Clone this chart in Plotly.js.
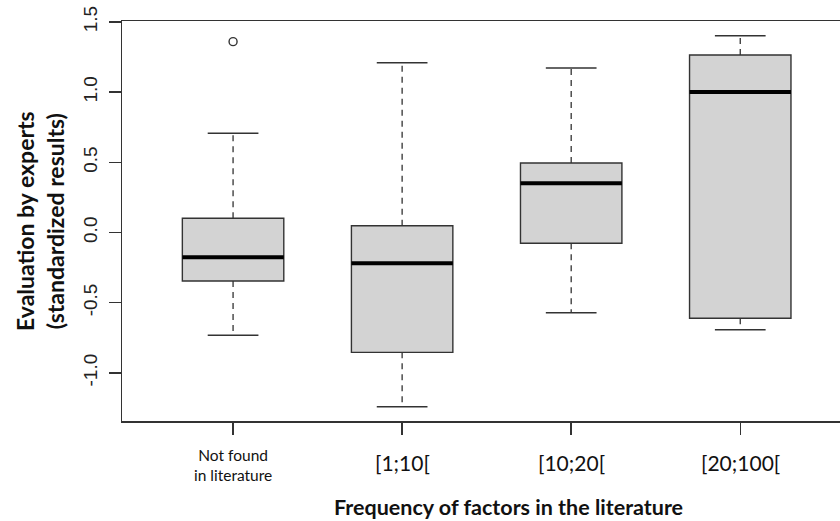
<!DOCTYPE html>
<html>
<head>
<meta charset="utf-8">
<script src="https://cdn.plot.ly/plotly-3.0.1.min.js"></script>
<style>html,body{margin:0;padding:0;background:#fff;}#chart{width:840px;height:521px;}</style>
</head>
<body>
<div id="chart"></div>
<script>
// ---- data ----
const categories = ["Not found<br>in literature", "[1;10[", "[10;20[", "[20;100["];
const q1Values     = [-0.345, -0.853, -0.076, -0.610];
const medianValues = [-0.176, -0.219,  0.351,  1.001];
const q3Values     = [ 0.102,  0.049,  0.496,  1.265];
const lowerWhisker = [-0.731, -1.240, -0.571, -0.692];
const upperWhisker = [ 0.707,  1.210,  1.172,  1.402];
const outlierCategory = ["Not found<br>in literature"];
const outlierValues   = [1.36];
const yTickValues = [-1.0, -0.5, 0.0, 0.5, 1.0, 1.5];
const yTickLabels = ["-1.0", "-0.5", "0.0", "0.5", "1.0", "1.5"];
const xTitle = "Frequency of factors in the literature";
const yTitle = "Evaluation by experts<br>(standardized results)";

// ---- build traces ----
const pos = categories.map((c, i) => i + 1);
const boxHalf = 0.3, capHalf = 0.15;
const lineCol = "#333";

const boxTrace = {
  type: "box", x: pos, q1: q1Values, median: medianValues, q3: q3Values,
  lowerfence: q1Values, upperfence: q3Values,
  width: 2 * boxHalf, whiskerwidth: 0,
  fillcolor: "#d3d3d3", line: {color: lineCol, width: 1.4},
  boxpoints: false, hoverinfo: "skip", showlegend: false
};

const wx = [], wy = [];
pos.forEach((p, i) => {
  wx.push(p, p, null, p, p, null);
  wy.push(q3Values[i], upperWhisker[i], null, q1Values[i], lowerWhisker[i], null);
});
const whiskerTrace = {type: "scatter", mode: "lines", x: wx, y: wy,
  line: {color: lineCol, width: 1.3, dash: "6px,5px"}, hoverinfo: "skip", showlegend: false};

const cx = [], cy = [];
pos.forEach((p, i) => {
  cx.push(p - capHalf, p + capHalf, null, p - capHalf, p + capHalf, null);
  cy.push(upperWhisker[i], upperWhisker[i], null, lowerWhisker[i], lowerWhisker[i], null);
});
const capTrace = {type: "scatter", mode: "lines", x: cx, y: cy,
  line: {color: lineCol, width: 1.5}, hoverinfo: "skip", showlegend: false};

const mx = [], my = [];
pos.forEach((p, i) => {
  mx.push(p - boxHalf, p + boxHalf, null);
  my.push(medianValues[i], medianValues[i], null);
});
const medianTrace = {type: "scatter", mode: "lines", x: mx, y: my,
  line: {color: "#000", width: 4}, hoverinfo: "skip", showlegend: false};

const outlierTrace = {type: "scatter", mode: "markers",
  x: outlierCategory.map(c => categories.indexOf(c) + 1), y: outlierValues,
  marker: {symbol: "circle-open", size: 8, color: lineCol, line: {width: 1.4, color: lineCol}},
  hoverinfo: "skip", showlegend: false};

// category labels (as text under each tick)
const catFont = "Lato, 'Open Sans', sans-serif";
const catAnnotations = categories.map((c, i) => {
  const multi = c.includes("<br>");
  return {
    text: c, xref: "x", yref: "paper", x: pos[i], y: multi ? -0.11 : -0.1025,
    xanchor: "center", yanchor: "middle", showarrow: false,
    font: {family: catFont, size: multi ? 15.5 : 21, color: "#111"}
  };
});

const layout = {
  width: 840, height: 521,
  margin: {l: 122, r: 0, t: 21, b: 100, pad: 0},
  paper_bgcolor: "#fff", plot_bgcolor: "#fff",
  showlegend: false,
  xaxis: {
    range: [0.343, 4.59], tickmode: "array", tickvals: pos, showticklabels: false,
    ticks: "outside", ticklen: 12, tickwidth: 1.4, tickcolor: lineCol,
    showline: true, linecolor: lineCol, linewidth: 1.5, mirror: true,
    showgrid: false, zeroline: false
  },
  yaxis: {
    range: [-1.342, 1.507], tickmode: "array", tickvals: yTickValues, ticktext: yTickLabels,
    tickangle: -90, ticks: "outside", ticklen: 12, tickwidth: 1.4, tickcolor: lineCol,
    showline: true, linecolor: lineCol, linewidth: 1.5, mirror: false,
    showgrid: false, zeroline: false, ticklabelstandoff: 4,
    tickfont: {family: "'Liberation Sans', Arial, sans-serif", size: 19, color: "#222"}
  },
  annotations: catAnnotations.concat([
    {text: "<b>" + xTitle + "</b>", xref: "paper", yref: "paper", x: 0.538, y: -0.215,
     xanchor: "center", yanchor: "middle", showarrow: false,
     font: {family: catFont, size: 21.5, color: "#111"}},
    {text: "<b>" + yTitle + "</b>", xref: "paper", yref: "paper", x: -0.1142, y: 0.5,
     xanchor: "center", yanchor: "middle", textangle: -90, showarrow: false,
     font: {family: catFont, size: 23, color: "#111"}}
  ])
};

Plotly.newPlot("chart", [boxTrace, whiskerTrace, capTrace, medianTrace, outlierTrace], layout,
  {staticPlot: true, displayModeBar: false});
</script>
</body>
</html>
